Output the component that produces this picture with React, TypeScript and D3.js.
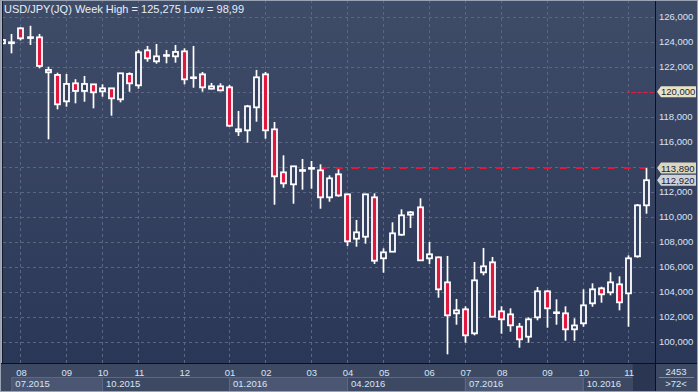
import React from 'react';
import * as d3 from 'd3';

// weekly USD/JPY candles
const opens = [124.14, 123.88, 125.07, 124.33, 124.35, 121.55, 121.34, 119.23, 120.67, 120.06, 120.59, 120.03, 120.27, 119.39, 121.42, 120.51, 123.31, 122.43, 122.88, 122.83, 123.23, 121.1, 121.39, 120.24, 120.43, 120.35, 116.83, 116.91, 118.75, 121.39, 116.99, 113.55, 112.59, 113.68, 113.85, 113.71, 111.55, 113.39, 111.79, 108.24, 108.4, 111.55, 106.67, 107.2, 108.56, 110.16, 110.75, 106.67, 106.75, 104.75, 102.27, 102.59, 100.67, 105.55, 106.35, 102.43, 102.19, 101.2, 100.4, 101.95, 104.03, 102.3, 102.27, 100.99, 101.47, 103.07, 104.27, 103.95, 104.59, 103.87, 106.83, 110.91];
const highs = [124.2, 124.62, 125.15, 125.275, 124.62, 122.0, 121.52, 121.42, 121.0, 121.26, 120.6, 120.59, 120.3, 121.5, 121.55, 123.34, 123.66, 123.82, 123.34, 123.74, 123.47, 123.66, 121.58, 120.7, 120.67, 120.54, 118.46, 118.94, 121.74, 121.58, 117.58, 114.91, 114.05, 114.62, 114.46, 114.19, 113.31, 113.79, 111.8, 109.74, 111.8, 111.87, 107.47, 109.55, 110.59, 110.46, 111.47, 107.98, 106.8, 106.86, 103.42, 102.83, 106.38, 107.5, 106.78, 102.83, 102.67, 101.5, 101.95, 104.38, 104.11, 103.39, 102.83, 101.87, 104.19, 104.67, 104.4, 105.55, 105.23, 106.91, 111.02, 113.89];
const lows = [123.8, 123.07, 124.1, 123.74, 121.87, 116.19, 118.59, 118.8, 119.07, 119.2, 118.67, 119.6, 118.08, 119.15, 120.0, 120.24, 122.4, 122.24, 122.27, 122.32, 120.59, 120.32, 120.0, 120.19, 120.03, 117.2, 116.46, 115.92, 117.6, 116.24, 110.96, 112.32, 111.04, 112.16, 112.24, 110.64, 111.2, 111.6, 107.66, 107.6, 107.84, 106.22, 105.52, 107.2, 108.48, 109.1, 106.5, 106.22, 103.52, 98.99, 101.36, 99.92, 100.51, 105.31, 101.95, 100.64, 100.8, 99.52, 99.92, 101.71, 101.12, 101.36, 100.08, 100.08, 101.2, 102.8, 103.12, 103.71, 102.51, 101.2, 106.72, 110.24];
const closes = [123.87, 123.95, 124.27, 124.36, 122.06, 121.74, 118.99, 120.62, 120.06, 120.62, 119.95, 120.27, 119.47, 121.47, 120.67, 123.15, 122.67, 122.83, 122.93, 123.18, 120.99, 121.15, 120.35, 120.43, 120.11, 117.28, 116.99, 118.83, 121.15, 116.91, 113.23, 112.67, 114.03, 113.73, 113.9, 111.55, 113.07, 111.7, 108.03, 108.75, 111.79, 106.48, 107.15, 108.67, 110.11, 110.35, 106.51, 106.99, 104.19, 102.11, 102.51, 100.51, 104.91, 106.03, 102.0, 101.79, 101.31, 100.19, 101.79, 104.03, 102.67, 102.35, 100.99, 101.3, 102.91, 104.19, 103.79, 104.75, 103.15, 106.67, 110.91, 112.92];

const priceTicks = [100, 102, 104, 106, 108, 110, 112, 114, 116, 118, 120, 122, 124, 126];

// month ticks: index of the week where each month starts
const monthIdx = [2, 7, 11, 15, 20, 25, 29, 34, 38, 42, 47, 51, 55, 60, 64, 69];
const monthLabels = ['08', '09', '10', '11', '12', '01', '02', '03', '04', '05', '06', '07', '08', '09', '10', '11'];

const quarterIdx = [1, 11, 25, 38, 51, 64, 69.5];
const quarterLabels = ['07.2015', '10.2015', '01.2016', '04.2016', '07.2016', '10.2016'];

const levelValues = [113.89, 120];
const levelStart = [35, 69];

const W = 698;
const H = 392;
const plotL = 3;
const plotR = 655;
const plotB = 363;
const FONT = '"Liberation Sans", Arial, sans-serif';

const x = d3.scaleLinear().domain([0, 71]).range([2.3, 646.3]);
const y = d3.scaleLinear().domain([100, 126]).range([341.7, 16.7]);

const fmt = (v: number) => d3.format('.3f')(v).replace('.', ',');

const App: React.FC = () => {
  const bodyW = 5;
  const tags = [
    { v: levelValues[1], fill: '#e9e3c6' },
    { v: levelValues[0], fill: '#dcd8c0' },
    { v: closes[closes.length - 1], fill: '#cfd2d8' },
  ];
  // tick labels hidden behind a price tag are not drawn
  const visibleTicks = priceTicks.filter((t) => tags.every((g) => Math.abs(y(t) - y(g.v)) > 9));

  return (
    <div style={{ position: 'fixed', left: 0, top: 0, width: W, height: H }}>
      <svg width={W} height={H} style={{ display: 'block', fontFamily: FONT }}>
        <defs>
          <linearGradient id="bg" x1="0" y1="0" x2="0" y2="1">
            <stop offset="0%" stopColor="#3f4c68" />
            <stop offset="100%" stopColor="#2b3757" />
          </linearGradient>
          <clipPath id="plotClip">
            <rect x={plotL} y={0} width={plotR - plotL} height={plotB} />
          </clipPath>
        </defs>

        {/* backgrounds */}
        <rect x={0} y={0} width={W} height={plotB} fill="url(#bg)" />
        <rect x={0} y={plotB} width={W} height={H - plotB} fill="#3d4963" />

        {/* grid */}
        <g stroke="#5a6682" strokeWidth={1} strokeDasharray="3,3">
          {priceTicks.map((t) => (
            <line key={t} x1={plotL} x2={plotR} y1={Math.round(y(t)) + 0.5} y2={Math.round(y(t)) + 0.5} />
          ))}
          {monthIdx.map((i) => (
            <line key={i} x1={Math.round(x(i)) + 0.5} x2={Math.round(x(i)) + 0.5} y1={0} y2={plotB} />
          ))}
        </g>

        {/* level lines */}
        <line x1={x(levelStart[0])} x2={plotR} y1={y(levelValues[0])} y2={y(levelValues[0])}
          stroke="#e0173f" strokeWidth={2} strokeDasharray="7,9" />
        <line x1={x(levelStart[1])} x2={plotR} y1={Math.round(y(levelValues[1])) + 0.5} y2={Math.round(y(levelValues[1])) + 0.5}
          stroke="#e0173f" strokeWidth={1} strokeDasharray="2,1" />

        {/* candles */}
        <g clipPath="url(#plotClip)">
          {opens.map((o, i) => {
            const c = closes[i];
            const cx = Math.round(x(i)) + 0.5;
            const top = y(Math.max(o, c));
            const bot = y(Math.min(o, c));
            const down = c < o;
            return (
              <g key={i}>
                <line x1={cx} x2={cx} y1={y(highs[i])} y2={y(lows[i])} stroke="#ffffff" strokeWidth={1.7} />
                <rect x={cx - bodyW / 2} y={top} width={bodyW} height={Math.max(bot - top, 0.8)}
                  fill={down ? '#e0173f' : '#33405e'} stroke="#ffffff" strokeWidth={1.8} />
              </g>
            );
          })}
        </g>

        {/* right axis */}
        <line x1={plotR + 0.5} x2={plotR + 0.5} y1={0} y2={H} stroke="#0d1018" strokeWidth={1} />
        <g fontSize={9.5} fill="#d8e4f6">
          {visibleTicks.map((t) => (
            <text key={t} x={659} y={y(t) + 3.5}>{fmt(t)}</text>
          ))}
        </g>

        {/* price tags */}
        {tags.map((tag) => {
          const cy = y(tag.v);
          return (
            <g key={tag.v}>
              <path d={`M${plotR + 2},${cy} L${plotR + 6},${cy - 5.5} L${W - 2},${cy - 5.5} L${W - 2},${cy + 5.5} L${plotR + 6},${cy + 5.5} Z`}
                fill={tag.fill} />
              <text x={661} y={cy + 3.5} fontSize={9.5} fill="#1d2230">{fmt(tag.v)}</text>
            </g>
          );
        })}

        {/* bottom axis */}
        <line x1={0} x2={W} y1={plotB + 0.5} y2={plotB + 0.5} stroke="#0d1018" strokeWidth={1} />
        {quarterLabels.map((q, k) => {
          const x0 = x(quarterIdx[k]);
          const x1 = x(quarterIdx[k + 1]);
          return (
            <g key={q}>
              <rect x={x0 + 0.5} y={377.5} width={x1 - x0} height={14} fill={k % 2 === 0 ? '#4b5772' : '#3d4963'}
                stroke="#5d6984" strokeWidth={1} />
              <text x={x0 + 4} y={387} fontSize={9.5} fill="#d8e4f6">{q}</text>
            </g>
          );
        })}
        <rect x={x(quarterIdx[quarterIdx.length - 1])} y={plotB + 1} width={plotR - x(quarterIdx[quarterIdx.length - 1])} height={H - plotB - 2} fill="#2b3652" />
        <g fontSize={9.5} fill="#d8e4f6" textAnchor="middle">
          {monthIdx.map((i, k) => (
            <text key={i} x={x(i) + 1} y={376}>{monthLabels[k]}</text>
          ))}
        </g>
        <line x1={plotR + 4} x2={W - 4} y1={377.5} y2={377.5} stroke="#7a86a0" strokeWidth={1} />
        <text x={676} y={374.5} fontSize={9.5} fill="#d8e4f6" textAnchor="middle">2453</text>
        <text x={676} y={387} fontSize={9.5} fill="#d8e4f6" textAnchor="middle">&gt;72&lt;</text>

        {/* title */}
        <text x={4} y={12.5} fontSize={11} fill="#e8eef8">USD/JPY(JQ) Week High = 125,275 Low = 98,99</text>

        {/* frame */}
        <rect x={0.5} y={0.5} width={W - 1} height={H - 1} fill="none" stroke="#9aa3b4" strokeWidth={1} />
        <line x1={1.5} x2={1.5} y1={1} y2={plotB} stroke="#a7afbf" strokeWidth={1} />
        <line x1={2.5} x2={2.5} y1={1} y2={plotB} stroke="#141a28" strokeWidth={1} />
      </svg>
    </div>
  );
};

export default App;
